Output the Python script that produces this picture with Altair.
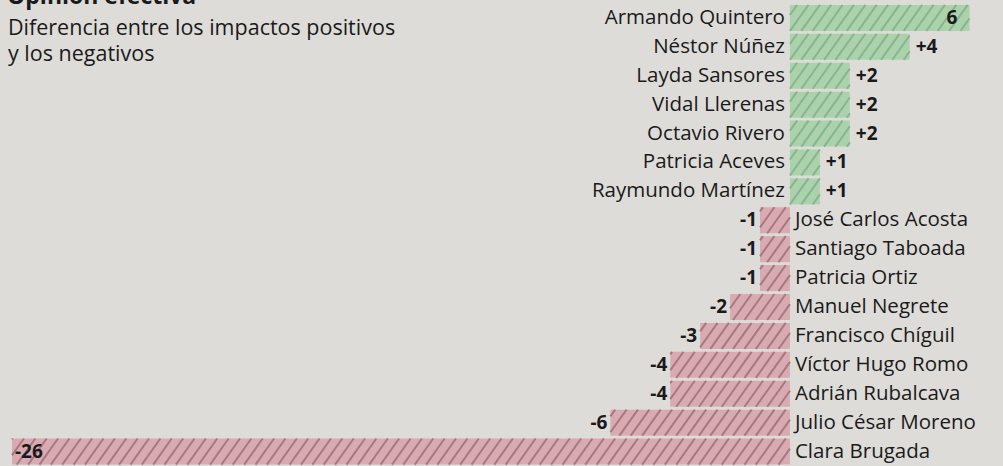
import altair as alt
import pandas as pd

names = ["Armando Quintero", "Néstor Núñez", "Layda Sansores", "Vidal Llerenas",
         "Octavio Rivero", "Patricia Aceves", "Raymundo Martínez",
         "José Carlos Acosta", "Santiago Taboada", "Patricia Ortiz",
         "Manuel Negrete", "Francisco Chíguil", "Víctor Hugo Romo",
         "Adrián Rubalcava", "Julio César Moreno", "Clara Brugada"]
values = [6, 4, 2, 2, 2, 1, 1, -1, -1, -1, -2, -3, -4, -4, -6, -26]
value_labels = ["6", "+4", "+2", "+2", "+2", "+1", "+1", "-1", "-1", "-1",
                "-2", "-3", "-4", "-4", "-6", "-26"]

title_text = "Opinión efectiva"
subtitle_lines = ["Diferencia entre los impactos positivos", "y los negativos"]

df = pd.DataFrame({"name": names, "value": values, "label": value_labels,
                   "row": list(range(len(names)))})

FONT = "Open Sans"
BG = "#dedcd8"
TXT = "#1a1a1a"

xs = alt.Scale(domain=[-26.4, 7.12], nice=False, zero=False)
yscale = alt.Scale(domain=[-0.62, 15.5], reverse=True, nice=False, zero=False)

base = alt.Chart(df).transform_calculate(
    lo="min(0, datum.value)",
    hi="max(0, datum.value)",
    top="datum.row - 0.45",
    bot="datum.row + 0.45",
    fillc="datum.value > 0 ? '#acd2ac' : '#d8abb2'",
    stripec="datum.value > 0 ? '#86b690' : '#a9777f'",
)

bars = base.mark_rect().encode(
    x=alt.X("lo:Q", scale=xs, axis=None), x2="hi:Q",
    y=alt.Y("top:Q", scale=yscale, axis=None), y2="bot:Q",
    color=alt.Color("fillc:N", scale=None),
)

STEP = 0.38
DX = 0.62
stripes = base.transform_calculate(
    k=f"sequence(0, ceil((datum.hi - datum.lo + {DX}) / {STEP}) + 3)"
).transform_flatten(["k"]).transform_calculate(
    x0=f"floor((datum.lo - {DX}) / {STEP}) * {STEP} + datum.k * {STEP}"
).transform_calculate(
    tmin=f"max(0, (datum.lo - datum.x0) / {DX})",
    tmax=f"min(1, (datum.hi - datum.x0) / {DX})",
).transform_filter("datum.tmin < datum.tmax").transform_calculate(
    xa=f"datum.x0 + datum.tmin * {DX}",
    xb=f"datum.x0 + datum.tmax * {DX}",
    ya="datum.row + 0.45 - datum.tmin * 0.9",
    yb="datum.row + 0.45 - datum.tmax * 0.9",
).mark_rule(strokeWidth=2.0).encode(
    x=alt.X("xa:Q", scale=xs, axis=None),
    x2="xb:Q",
    y=alt.Y("ya:Q", scale=yscale, axis=None), y2="yb:Q",
    color=alt.Color("stripec:N", scale=None),
)

ty = alt.Y("row:Q", scale=yscale, axis=None)

pos_names = base.transform_filter("datum.value > 0").mark_text(
    align="right", baseline="middle", dx=-5, font=FONT, fontSize=20.5, color=TXT
).encode(x=alt.X("lo:Q", scale=xs, axis=None), y=ty, text="name:N")

neg_names = base.transform_filter("datum.value < 0").mark_text(
    align="left", baseline="middle", dx=5, font=FONT, fontSize=20.5, color=TXT
).encode(x=alt.X("hi:Q", scale=xs, axis=None), y=ty, text="name:N")

pos_vals = base.transform_filter("datum.value > 0 && datum.value < 6").mark_text(
    align="left", baseline="middle", dx=6, font=FONT, fontSize=19, fontWeight="bold", color=TXT
).encode(x=alt.X("hi:Q", scale=xs, axis=None), y=ty, text="label:N")

top_val = base.transform_filter("datum.value >= 6").mark_text(
    align="right", baseline="middle", dx=-12, font=FONT, fontSize=19, fontWeight="bold", color=TXT
).encode(x=alt.X("hi:Q", scale=xs, axis=None), y=ty, text="label:N")

neg_vals = base.transform_filter("datum.value < 0 && datum.value > -20").mark_text(
    align="right", baseline="middle", dx=-3, font=FONT, fontSize=19, fontWeight="bold", color=TXT
).encode(x=alt.X("lo:Q", scale=xs, axis=None), y=ty, text="label:N")

big_val = base.transform_filter("datum.value <= -20").mark_text(
    align="left", baseline="middle", dx=3, font=FONT, fontSize=19, fontWeight="bold", color=TXT
).encode(x=alt.X("lo:Q", scale=xs, axis=None), y=ty, text="label:N")

tdf = pd.DataFrame({"t": [title_text]})
title = alt.Chart(tdf).mark_text(
    align="left", baseline="alphabetic", font=FONT, fontSize=23, fontWeight="bold", color=TXT
).encode(x=alt.value(7), y=alt.value(4), text="t:N")

sdf = pd.DataFrame({"t": subtitle_lines, "i": [0, 1]})
sub1 = alt.Chart(sdf).transform_filter("datum.i == 0").mark_text(
    align="left", baseline="alphabetic", font=FONT, fontSize=21.5, color=TXT
).encode(x=alt.value(8), y=alt.value(35), text="t:N")
sub2 = alt.Chart(sdf).transform_filter("datum.i == 1").mark_text(
    align="left", baseline="alphabetic", font=FONT, fontSize=21.5, color=TXT
).encode(x=alt.value(8), y=alt.value(61), text="t:N")

chart = alt.layer(
    bars, stripes, pos_names, neg_names, pos_vals, top_val, neg_vals, big_val, title, sub1, sub2
).properties(
    width=1003, height=466, padding=0, autosize=alt.AutoSizeParams(type="none"),
    background=BG,
).configure_view(stroke=None)

chart.save("out.html", embed_options={"renderer": "svg", "actions": False})
